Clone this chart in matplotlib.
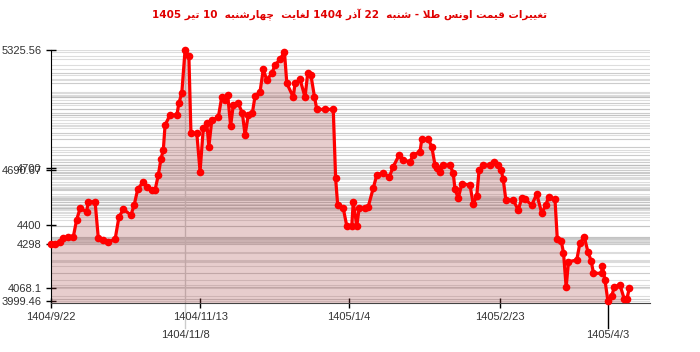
"""
Gold ounce price changes chart (1404/9/22 - 1405/4/10)
"""

import re
import matplotlib
matplotlib.use('Agg')
import matplotlib.pyplot as plt
import matplotlib.transforms as mtransforms

title_text = 'تغییرات قیمت اونس طلا - شنبه  22 آذر 1404 لغایت  چهارشنبه  10 تیر 1405'

# day offset from 1404/9/22 and price
days = [0, 1.5, 3.2, 4.3, 6.0, 7.7, 8.8, 10.0, 12.2, 12.8, 15.1, 16.2, 17.9, 19.6, 21.9, 23.2,
        24.7, 27.3, 28.4, 29.6, 31.5, 32.7, 34.4, 35.5, 36.6, 37.5, 38.3, 38.9, 40.6, 42.9, 43.6,
        44.6, 45.7, 47.0, 47.7, 49.7, 50.8, 51.9, 53.1, 53.8, 54.8, 57.0, 58.2, 59.3, 60.2, 61.2,
        62.1, 63.8, 65.2, 66.1, 67.2, 68.6, 69.5, 71.2, 72.3, 73.5, 75.2, 76.3, 78.0, 79.5, 80.3,
        82.5, 83.1, 84.8, 86.5, 87.4, 88.5, 89.7, 90.5, 93.3, 96.1, 96.9, 97.6, 99.5, 100.7, 102.4,
        102.9, 104.1, 104.9, 106.9, 108.0, 109.7, 110.9, 113.1, 115.1, 116.5, 118.5, 119.9, 122.2,
        123.3, 125.6, 126.2, 128.4, 129.6, 130.7, 131.3, 132.4, 133.5, 135.8, 136.9, 137.5, 138.6,
        139.8, 142.6, 143.7, 144.9, 145.7, 147.1, 149.4, 150.9, 152.2, 153.2, 153.9, 154.8, 157.3,
        159.0, 160.2, 161.3, 163.6, 165.3, 167.0, 168.4, 169.3, 171.5, 172.3, 173.6, 174.4, 175.3,
        176.1, 178.9, 180.0, 181.5, 182.7, 183.8, 184.6, 187.4, 187.6, 188.5, 189.5, 190.8, 191.7,
        193.6, 195.1, 195.9, 196.8]
prices = [4298, 4301, 4313, 4331, 4339, 4339, 4427, 4489, 4471, 4524, 4524, 4331, 4322, 4313,
          4325, 4442, 4484, 4454, 4507, 4590, 4630, 4603, 4586, 4586, 4665, 4750, 4797, 4929,
          4982, 4982, 5044, 5100, 5325.56, 5294, 4885, 4885, 4683, 4912, 4938, 4815, 4956, 4970,
          5079, 5061, 5088, 4924, 5035, 5044, 4991, 4876, 4982, 4994, 5082, 5105, 5223, 5167,
          5202, 5246, 5276, 5316, 5150, 5076, 5150, 5171, 5076, 5202, 5193, 5079, 5012, 5012,
          5012, 4648, 4507, 4489, 4396, 4396, 4524, 4396, 4489, 4489, 4498, 4595, 4665, 4677,
          4653, 4709, 4771, 4744, 4735, 4771, 4788, 4854, 4854, 4815, 4718, 4700, 4683, 4718,
          4718, 4674, 4590, 4542, 4618, 4612, 4512, 4554, 4692, 4718, 4718, 4735, 4718, 4692,
          4642, 4533, 4533, 4480, 4542, 4537, 4507, 4565, 4463, 4507, 4547, 4537, 4325, 4318,
          4255, 4072, 4207, 4216, 4307, 4336, 4260, 4212, 4146, 4146, 4184, 4110, 3999.46, 4026,
          4075, 4084, 4008, 4008, 4068.1]

xtick_pos = [0, 50.9, 101.5, 152.8]
xtick_labels = ['1404/9/22', '1404/11/13', '1405/1/4', '1405/2/23']
mark_pos = [45.7, 189.5]
mark_labels = ['1404/11/8', '1405/4/3']
ytick_pos = [5325.56, 4700, 4690.67, 4400, 4298, 4068.1, 3999.46]
ytick_labels = ['5325.56', '4700', '4690.67', '4400', '4298', '4068.1', '3999.46']

# (isolated, final, initial, medial); two entries = joins only to the right
FORMS = {
    'ا': ('\ufe8d', '\ufe8e'), 'آ': ('\ufe81', '\ufe82'),
    'د': ('\ufea9', '\ufeaa'), 'ذ': ('\ufeab', '\ufeac'),
    'ر': ('\ufead', '\ufeae'), 'ز': ('\ufeaf', '\ufeb0'),
    'و': ('\ufeed', '\ufeee'),
    'ب': ('\ufe8f', '\ufe90', '\ufe91', '\ufe92'),
    'ت': ('\ufe95', '\ufe96', '\ufe97', '\ufe98'),
    'س': ('\ufeb1', '\ufeb2', '\ufeb3', '\ufeb4'),
    'ش': ('\ufeb5', '\ufeb6', '\ufeb7', '\ufeb8'),
    'ط': ('\ufec1', '\ufec2', '\ufec3', '\ufec4'),
    'غ': ('\ufecd', '\ufece', '\ufecf', '\ufed0'),
    'ق': ('\ufed5', '\ufed6', '\ufed7', '\ufed8'),
    'ل': ('\ufedd', '\ufede', '\ufedf', '\ufee0'),
    'م': ('\ufee1', '\ufee2', '\ufee3', '\ufee4'),
    'ن': ('\ufee5', '\ufee6', '\ufee7', '\ufee8'),
    'ه': ('\ufee9', '\ufeea', '\ufeeb', '\ufeec'),
    'ی': ('\ufeef', '\ufef0', '\ufef3', '\ufef4'),
    'چ': ('\ufb7a', '\ufb7b', '\ufb7c', '\ufb7d'),
}


def shape_persian(text):
    """
    join letters into presentation forms and put them in display order
    """
    out = []
    i = 0
    n = len(text)
    while i < n:
        ch = text[i]
        if ch not in FORMS:
            out.append(ch)
            i += 1
            continue
        prev = text[i - 1] if i > 0 else ''
        joins_prev = prev in FORMS and len(FORMS[prev]) == 4
        if ch == 'ل' and i + 1 < n and text[i + 1] in ('ا', 'آ'):
            lig = ('\ufefb', '\ufefc') if text[i + 1] == 'ا' else ('\ufef5', '\ufef6')
            out.append(lig[1] if joins_prev else lig[0])
            i += 2
            continue
        nxt = text[i + 1] if i + 1 < n else ''
        joins_next = len(FORMS[ch]) == 4 and nxt in FORMS
        f = FORMS[ch]
        if joins_prev and joins_next:
            out.append(f[3])
        elif joins_prev:
            out.append(f[1])
        elif joins_next:
            out.append(f[2])
        else:
            out.append(f[0])
        i += 1
    visual = ''.join(out)[::-1]
    return re.sub(r'\d+', lambda m: m.group(0)[::-1], visual)


fig = plt.figure(figsize=(7, 3.52), dpi=100)
ax = fig.add_axes([0.0724, 0.1392, 0.8561, 0.7188])

ymin, ymax = 3988.9, 5325.6
ax.set_xlim(0, 203.8)
ax.set_ylim(ymin, ymax)

# one faint line per price level
for p in prices:
    ax.axhline(p, color='#bdbdbd', lw=0.8, alpha=0.5, zorder=1)

ax.fill_between(days, prices, ymin, color='#a23a3a', alpha=0.25, lw=0, zorder=2)
ax.plot(days, prices, color='#ff0000', lw=2.3, marker='o', markersize=5.5,
        markeredgewidth=0, zorder=4, clip_on=False)

# max / min date marks
trans = mtransforms.blended_transform_factory(ax.transData, ax.transAxes)
ax.plot([mark_pos[0], mark_pos[0]], [-0.1, 1], transform=trans, color='#cccccc',
        lw=1, zorder=1, clip_on=False)
ax.plot([mark_pos[1], mark_pos[1]], [-0.1, 0], transform=trans, color='black',
        lw=1, zorder=1, clip_on=False)
for pos, lab in zip(mark_pos, mark_labels):
    ax.text(pos, -0.105, lab, transform=trans, ha='center', va='top',
            fontsize=8, family='Liberation Sans', color='#333333')

ax.set_xticks(xtick_pos)
ax.set_xticklabels(xtick_labels)
ax.set_yticks(ytick_pos)
ax.set_yticklabels(ytick_labels)
ax.tick_params(axis='both', direction='inout', length=7, width=1, color='black',
               labelsize=8, labelcolor='#333333', pad=3)
for lab in ax.get_xticklabels() + ax.get_yticklabels():
    lab.set_family('Liberation Sans')

for side in ['top', 'right']:
    ax.spines[side].set_visible(False)
ax.spines['left'].set_color('black')
ax.spines['bottom'].set_color('#444444')

fig.text(0.5, 1 - 15 / 352, shape_persian(title_text), ha='center', va='center',
         color='#e00000', fontsize=7.5, fontweight='bold', family='DejaVu Sans')

plt.savefig('out.png', dpi=100)
